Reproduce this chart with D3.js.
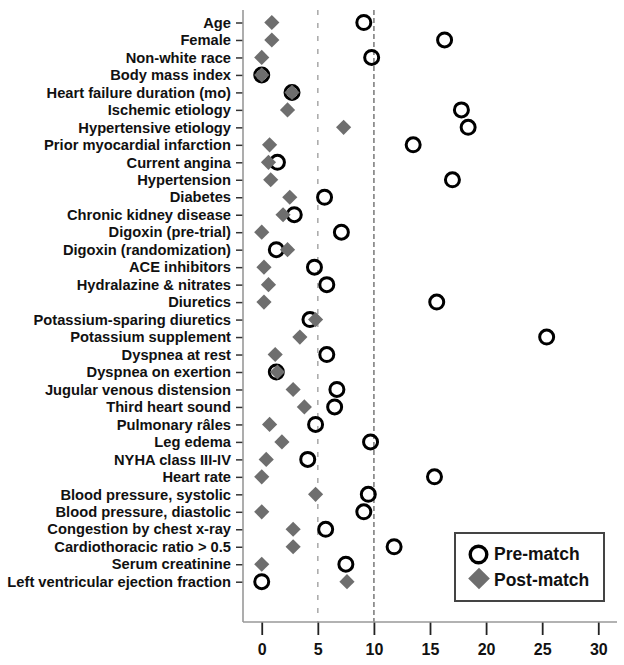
<!DOCTYPE html>
<html><head><meta charset="utf-8">
<script src="https://cdn.jsdelivr.net/npm/d3@7"></script>
<style>
html,body{margin:0;padding:0;background:#fff;}
text{font-family:"Liberation Sans",Arial,sans-serif;font-weight:bold;fill:#111;}
</style></head>
<body><svg id="c" width="624" height="665"></svg>
<script>
const categories = ["Age","Female","Non-white race","Body mass index","Heart failure duration (mo)","Ischemic etiology","Hypertensive etiology","Prior myocardial infarction","Current angina","Hypertension","Diabetes","Chronic kidney disease","Digoxin (pre-trial)","Digoxin (randomization)","ACE inhibitors","Hydralazine & nitrates","Diuretics","Potassium-sparing diuretics","Potassium supplement","Dyspnea at rest","Dyspnea on exertion","Jugular venous distension","Third heart sound","Pulmonary râles","Leg edema","NYHA class III-IV","Heart rate","Blood pressure, systolic","Blood pressure, diastolic","Congestion by chest x-ray","Cardiothoracic ratio > 0.5","Serum creatinine","Left ventricular ejection fraction"];
const preMatch = [9.1,16.3,9.8,0.0,2.7,17.8,18.4,13.5,1.4,17.0,5.6,2.9,7.1,1.3,4.7,5.8,15.6,4.3,25.4,5.8,1.3,6.7,6.5,4.8,9.7,4.1,15.4,9.5,9.1,5.7,11.8,7.5,0.0];
const postMatch = [0.9,0.9,0.0,0.0,2.7,2.3,7.3,0.7,0.6,0.8,2.5,1.9,0.0,2.3,0.2,0.6,0.2,4.8,3.4,1.2,1.4,2.8,3.8,0.7,1.8,0.4,0.0,4.8,0.0,2.8,2.8,0.0,7.6];
const xTicks = [0,5,10,15,20,25,30];
const refLines = [5,10];
const seriesNames = ["Pre-match","Post-match"];

const svg = d3.select("#c");
const x = d3.scaleLinear().domain([-1.67,31.67]).range([243,617]);
const y = d3.scalePoint().domain(categories).range([22.5,581.7]);
const yTop = 10, xAxisY = 622;

// reference dashed lines
svg.append("line").attr("x1",x(refLines[0])).attr("x2",x(refLines[0])).attr("y1",yTop).attr("y2",xAxisY)
  .attr("stroke","#a8a8a8").attr("stroke-width",1.5).attr("stroke-dasharray","5,8");
svg.append("line").attr("x1",x(refLines[1])).attr("x2",x(refLines[1])).attr("y1",yTop).attr("y2",xAxisY)
  .attr("stroke","#808080").attr("stroke-width",1.6).attr("stroke-dasharray","5,3");

// y axis
const ya = svg.append("g").attr("transform","translate(243,0)")
  .call(d3.axisLeft(y).tickSize(7).tickPadding(5));
ya.select(".domain").remove();
ya.selectAll(".tick line").attr("stroke","#333").attr("stroke-width",1.5);
ya.selectAll(".tick text").attr("font-size",14.7).attr("fill","#111")
  .style("font-family","'Liberation Sans',Arial,sans-serif").style("font-weight","bold");
svg.append("line").attr("x1",243).attr("x2",243).attr("y1",yTop).attr("y2",xAxisY)
  .attr("stroke","#999").attr("stroke-width",1.6);

// x axis
const xa = svg.append("g").attr("transform",`translate(0,${xAxisY})`)
  .call(d3.axisBottom(x).tickValues(xTicks).tickSize(13).tickPadding(9));
xa.select(".domain").remove();
xa.selectAll(".tick line").attr("stroke","#222").attr("stroke-width",1.8);
xa.selectAll(".tick text").attr("font-size",16).attr("fill","#111")
  .style("font-family","'Liberation Sans',Arial,sans-serif").style("font-weight","bold");
svg.append("line").attr("x1",243).attr("x2",617).attr("y1",xAxisY).attr("y2",xAxisY)
  .attr("stroke","#999").attr("stroke-width",1.6);

// pre-match circles
svg.append("g").selectAll("circle").data(categories).join("circle")
  .attr("cx",(d,i)=>x(preMatch[i])).attr("cy",d=>y(d)).attr("r",7)
  .attr("fill","none").attr("stroke","#000").attr("stroke-width",3);
// post-match diamonds
svg.append("g").selectAll("path").data(categories).join("path")
  .attr("d",d3.symbol().type(d3.symbolSquare).size(115)())
  .attr("transform",(d,i)=>`translate(${x(postMatch[i])},${y(d)}) rotate(45)`)
  .attr("fill","#6e6e6e");

// legend
const lg = svg.append("g");
lg.append("rect").attr("x",455).attr("y",533).attr("width",149).attr("height",68)
  .attr("fill","#fff").attr("stroke","#444").attr("stroke-width",2);
lg.append("circle").attr("cx",478.5).attr("cy",554.5).attr("r",8.3)
  .attr("fill","none").attr("stroke","#000").attr("stroke-width",3.4);
lg.append("path").attr("d",d3.symbol().type(d3.symbolSquare).size(235)())
  .attr("transform","translate(479,578.5) rotate(45)").attr("fill","#6e6e6e");
lg.selectAll("text.lt").data(seriesNames).join("text").attr("class","lt")
  .attr("x",494).attr("y",(d,i)=>560+i*25.5).attr("font-size",17.5).text(d=>d);
</script></body></html>
